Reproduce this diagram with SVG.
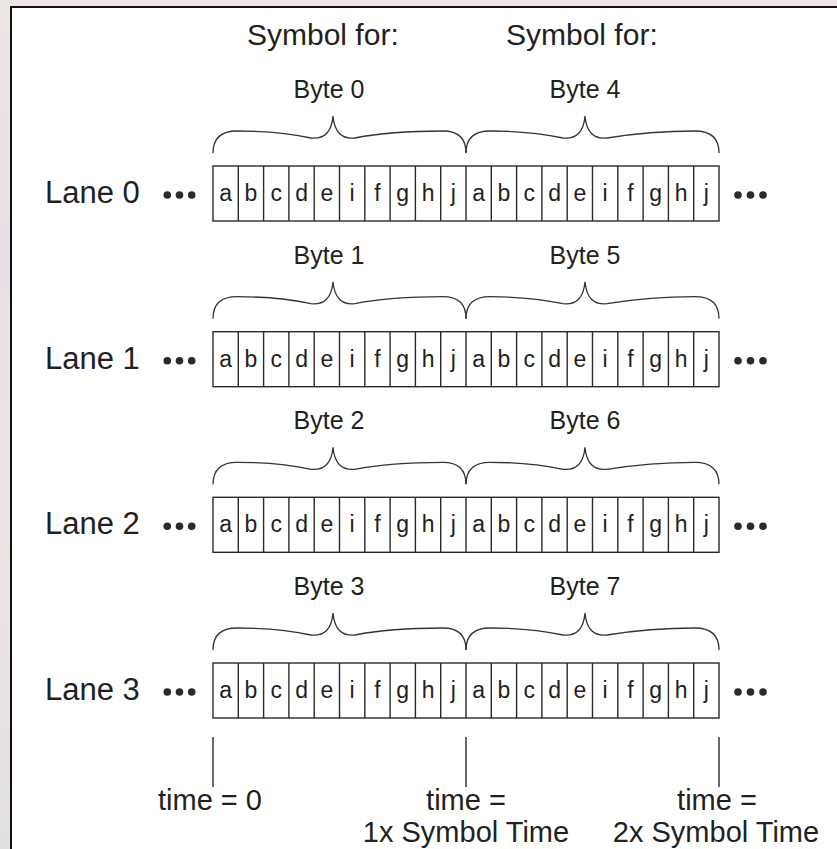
<svg xmlns="http://www.w3.org/2000/svg" width="837" height="849" viewBox="0 0 837 849">
<defs>
<linearGradient id="bg" x1="0" y1="0" x2="0" y2="1">
<stop offset="0" stop-color="#ece6e4"/>
<stop offset="0.3" stop-color="#e6dfe6"/>
<stop offset="0.6" stop-color="#ede5e4"/>
<stop offset="1" stop-color="#e2dfe2"/>
</linearGradient>
<style>
text{font-family:"Liberation Sans",Arial,sans-serif;fill:#231f20}
.big{font-size:31px}
.tm{font-size:29px}
.sym{font-size:30px}
.byte{font-size:25px;text-anchor:middle}
.cl{font-size:23px;text-anchor:middle}
.mid{text-anchor:middle}
.ln{fill:none;stroke:#2a2a2a;stroke-width:1.4}
.br{fill:none;stroke:#333;stroke-width:1.3}
.dot{fill:#2a2a2a}
</style>
</defs>
<rect x="0" y="0" width="837" height="849" fill="url(#bg)"/>
<rect x="11" y="7" width="840" height="860" fill="#ffffff" stroke="#111" stroke-width="2"/>
<g id="header">
<text class="sym" x="247" y="45">Symbol for:</text>
<text class="sym" x="506" y="45">Symbol for:</text>
</g>
<g id="lane0">
<text class="byte" x="329" y="98">Byte 0</text>
<text class="byte" x="585" y="98">Byte 4</text>
<path class="br" d="M213,153 Q213,131 237,131 Q280,131 311,138 Q331,140 333,116 Q335,140 355,138 Q390,131 443,131 Q466,131 466,153"/>
<path class="br" d="M466,153 Q466,131 490,131 Q530,131 563,138 Q583,140 585,116 Q587,140 607,138 Q650,131 695,131 Q719,131 719,153"/>
<text class="big" x="45" y="203">Lane 0</text>
<circle class="dot" cx="167.3" cy="195" r="3.8"/><circle class="dot" cx="179.5" cy="195" r="3.8"/><circle class="dot" cx="191.7" cy="195" r="3.8"/>
<circle class="dot" cx="738" cy="195" r="3.8"/><circle class="dot" cx="750.5" cy="195" r="3.8"/><circle class="dot" cx="763" cy="195" r="3.8"/>
<rect class="ln" x="213" y="166" width="506" height="55"/>
<path class="ln" d="M238.3,166V221M263.6,166V221M288.9,166V221M314.2,166V221M339.5,166V221M364.8,166V221M390.1,166V221M415.4,166V221M440.7,166V221M466,166V221M491.3,166V221M516.6,166V221M541.9,166V221M567.2,166V221M592.5,166V221M617.8,166V221M643.1,166V221M668.4,166V221M693.7,166V221"/>
<text class="cl" x="225.65" y="201">a</text><text class="cl" x="250.95" y="201">b</text><text class="cl" x="276.25" y="201">c</text><text class="cl" x="301.55" y="201">d</text><text class="cl" x="326.85" y="201">e</text><text class="cl" x="352.15" y="201">i</text><text class="cl" x="377.45" y="201">f</text><text class="cl" x="402.75" y="201">g</text><text class="cl" x="428.05" y="201">h</text><text class="cl" x="453.35" y="201">j</text>
<text class="cl" x="478.65" y="201">a</text><text class="cl" x="503.95" y="201">b</text><text class="cl" x="529.25" y="201">c</text><text class="cl" x="554.55" y="201">d</text><text class="cl" x="579.85" y="201">e</text><text class="cl" x="605.15" y="201">i</text><text class="cl" x="630.45" y="201">f</text><text class="cl" x="655.75" y="201">g</text><text class="cl" x="681.05" y="201">h</text><text class="cl" x="706.35" y="201">j</text>
</g>
<g id="lane1" transform="translate(0,165.7)">
<text class="byte" x="329" y="98">Byte 1</text>
<text class="byte" x="585" y="98">Byte 5</text>
<path class="br" d="M213,153 Q213,131 237,131 Q280,131 311,138 Q331,140 333,116 Q335,140 355,138 Q390,131 443,131 Q466,131 466,153"/>
<path class="br" d="M466,153 Q466,131 490,131 Q530,131 563,138 Q583,140 585,116 Q587,140 607,138 Q650,131 695,131 Q719,131 719,153"/>
<text class="big" x="45" y="203">Lane 1</text>
<circle class="dot" cx="167.3" cy="195" r="3.8"/><circle class="dot" cx="179.5" cy="195" r="3.8"/><circle class="dot" cx="191.7" cy="195" r="3.8"/>
<circle class="dot" cx="738" cy="195" r="3.8"/><circle class="dot" cx="750.5" cy="195" r="3.8"/><circle class="dot" cx="763" cy="195" r="3.8"/>
<rect class="ln" x="213" y="166" width="506" height="55"/>
<path class="ln" d="M238.3,166V221M263.6,166V221M288.9,166V221M314.2,166V221M339.5,166V221M364.8,166V221M390.1,166V221M415.4,166V221M440.7,166V221M466,166V221M491.3,166V221M516.6,166V221M541.9,166V221M567.2,166V221M592.5,166V221M617.8,166V221M643.1,166V221M668.4,166V221M693.7,166V221"/>
<text class="cl" x="225.65" y="201">a</text><text class="cl" x="250.95" y="201">b</text><text class="cl" x="276.25" y="201">c</text><text class="cl" x="301.55" y="201">d</text><text class="cl" x="326.85" y="201">e</text><text class="cl" x="352.15" y="201">i</text><text class="cl" x="377.45" y="201">f</text><text class="cl" x="402.75" y="201">g</text><text class="cl" x="428.05" y="201">h</text><text class="cl" x="453.35" y="201">j</text>
<text class="cl" x="478.65" y="201">a</text><text class="cl" x="503.95" y="201">b</text><text class="cl" x="529.25" y="201">c</text><text class="cl" x="554.55" y="201">d</text><text class="cl" x="579.85" y="201">e</text><text class="cl" x="605.15" y="201">i</text><text class="cl" x="630.45" y="201">f</text><text class="cl" x="655.75" y="201">g</text><text class="cl" x="681.05" y="201">h</text><text class="cl" x="706.35" y="201">j</text>
</g>
<g id="lane2" transform="translate(0,331.3)">
<text class="byte" x="329" y="98">Byte 2</text>
<text class="byte" x="585" y="98">Byte 6</text>
<path class="br" d="M213,153 Q213,131 237,131 Q280,131 311,138 Q331,140 333,116 Q335,140 355,138 Q390,131 443,131 Q466,131 466,153"/>
<path class="br" d="M466,153 Q466,131 490,131 Q530,131 563,138 Q583,140 585,116 Q587,140 607,138 Q650,131 695,131 Q719,131 719,153"/>
<text class="big" x="45" y="203">Lane 2</text>
<circle class="dot" cx="167.3" cy="195" r="3.8"/><circle class="dot" cx="179.5" cy="195" r="3.8"/><circle class="dot" cx="191.7" cy="195" r="3.8"/>
<circle class="dot" cx="738" cy="195" r="3.8"/><circle class="dot" cx="750.5" cy="195" r="3.8"/><circle class="dot" cx="763" cy="195" r="3.8"/>
<rect class="ln" x="213" y="166" width="506" height="55"/>
<path class="ln" d="M238.3,166V221M263.6,166V221M288.9,166V221M314.2,166V221M339.5,166V221M364.8,166V221M390.1,166V221M415.4,166V221M440.7,166V221M466,166V221M491.3,166V221M516.6,166V221M541.9,166V221M567.2,166V221M592.5,166V221M617.8,166V221M643.1,166V221M668.4,166V221M693.7,166V221"/>
<text class="cl" x="225.65" y="201">a</text><text class="cl" x="250.95" y="201">b</text><text class="cl" x="276.25" y="201">c</text><text class="cl" x="301.55" y="201">d</text><text class="cl" x="326.85" y="201">e</text><text class="cl" x="352.15" y="201">i</text><text class="cl" x="377.45" y="201">f</text><text class="cl" x="402.75" y="201">g</text><text class="cl" x="428.05" y="201">h</text><text class="cl" x="453.35" y="201">j</text>
<text class="cl" x="478.65" y="201">a</text><text class="cl" x="503.95" y="201">b</text><text class="cl" x="529.25" y="201">c</text><text class="cl" x="554.55" y="201">d</text><text class="cl" x="579.85" y="201">e</text><text class="cl" x="605.15" y="201">i</text><text class="cl" x="630.45" y="201">f</text><text class="cl" x="655.75" y="201">g</text><text class="cl" x="681.05" y="201">h</text><text class="cl" x="706.35" y="201">j</text>
</g>
<g id="lane3" transform="translate(0,497)">
<text class="byte" x="329" y="98">Byte 3</text>
<text class="byte" x="585" y="98">Byte 7</text>
<path class="br" d="M213,153 Q213,131 237,131 Q280,131 311,138 Q331,140 333,116 Q335,140 355,138 Q390,131 443,131 Q466,131 466,153"/>
<path class="br" d="M466,153 Q466,131 490,131 Q530,131 563,138 Q583,140 585,116 Q587,140 607,138 Q650,131 695,131 Q719,131 719,153"/>
<text class="big" x="45" y="203">Lane 3</text>
<circle class="dot" cx="167.3" cy="195" r="3.8"/><circle class="dot" cx="179.5" cy="195" r="3.8"/><circle class="dot" cx="191.7" cy="195" r="3.8"/>
<circle class="dot" cx="738" cy="195" r="3.8"/><circle class="dot" cx="750.5" cy="195" r="3.8"/><circle class="dot" cx="763" cy="195" r="3.8"/>
<rect class="ln" x="213" y="166" width="506" height="55"/>
<path class="ln" d="M238.3,166V221M263.6,166V221M288.9,166V221M314.2,166V221M339.5,166V221M364.8,166V221M390.1,166V221M415.4,166V221M440.7,166V221M466,166V221M491.3,166V221M516.6,166V221M541.9,166V221M567.2,166V221M592.5,166V221M617.8,166V221M643.1,166V221M668.4,166V221M693.7,166V221"/>
<text class="cl" x="225.65" y="201">a</text><text class="cl" x="250.95" y="201">b</text><text class="cl" x="276.25" y="201">c</text><text class="cl" x="301.55" y="201">d</text><text class="cl" x="326.85" y="201">e</text><text class="cl" x="352.15" y="201">i</text><text class="cl" x="377.45" y="201">f</text><text class="cl" x="402.75" y="201">g</text><text class="cl" x="428.05" y="201">h</text><text class="cl" x="453.35" y="201">j</text>
<text class="cl" x="478.65" y="201">a</text><text class="cl" x="503.95" y="201">b</text><text class="cl" x="529.25" y="201">c</text><text class="cl" x="554.55" y="201">d</text><text class="cl" x="579.85" y="201">e</text><text class="cl" x="605.15" y="201">i</text><text class="cl" x="630.45" y="201">f</text><text class="cl" x="655.75" y="201">g</text><text class="cl" x="681.05" y="201">h</text><text class="cl" x="706.35" y="201">j</text>
</g>
<g id="connectors">
<path class="ln" d="M213,737V787M466,737V787M719,737V787"/>
</g>
<g id="time0">
<text class="tm" x="158" y="810">time = 0</text>
</g>
<g id="time1">
<text class="tm mid" x="466" y="810">time =</text>
<text class="tm mid" x="466" y="842">1x Symbol Time</text>
</g>
<g id="time2">
<text class="tm mid" x="717" y="810">time =</text>
<text class="tm mid" x="716" y="842">2x Symbol Time</text>
</g>
</svg>
